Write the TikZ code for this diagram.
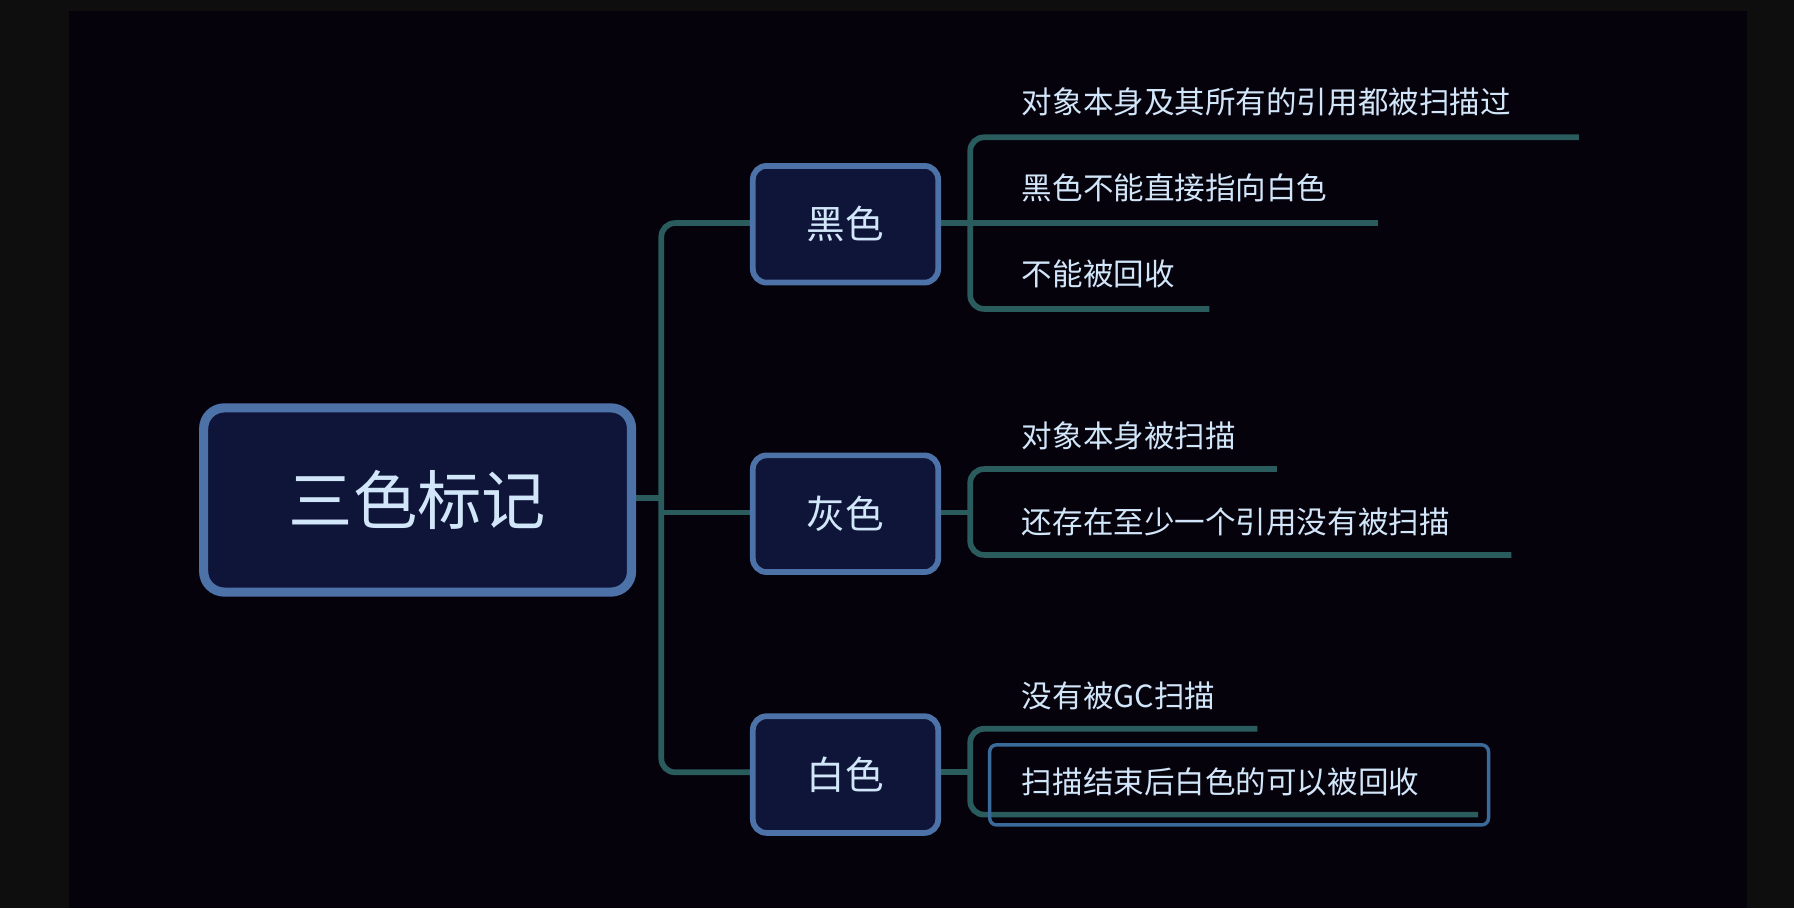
\documentclass[tikz,border=0pt]{standalone}
\usepackage{fontspec}
\setmainfont{Noto Sans CJK SC}
\definecolor{outerbg}{HTML}{0E0E0E}
\definecolor{innerbg}{HTML}{06020C}
\definecolor{boxfill}{HTML}{0E1538}
\definecolor{boxline}{HTML}{4C72A8}
\definecolor{txt}{HTML}{D2E6FA}
\definecolor{teal}{HTML}{2A5C5E}
\definecolor{sel}{HTML}{3A6A9A}
\begin{document}
\begin{tikzpicture}[x={(0.05cm,0)},y={(0,-0.05cm)},
  rootbox/.style={draw=boxline,line width=0.4cm,fill=boxfill,rounded corners=0.9cm,minimum width=18.7cm,minimum height=8.05cm,text=txt,font=\fontsize{80}{90}\selectfont},
  branchbox/.style={draw=boxline,line width=0.25cm,fill=boxfill,rounded corners=0.6cm,minimum width=8.1cm,minimum height=5.1cm,text=txt,font=\fontsize{48}{56}\selectfont},
  leaf/.style={anchor=west,text=txt,inner sep=0,font=\fontsize{38}{44}\selectfont},
  conn/.style={draw=teal,line width=0.25cm,rounded corners=0.6cm}]
\fill[outerbg] (0,0) rectangle (1568,794);
\fill[innerbg] (60,10) rectangle (1527,794);
% connectors
\coordinate (j) at (578,435);
\draw[conn] (552,435) -- (j);
\draw[conn] (657,195) -- (578,195) -- (578,675) -- (657,675);
\draw[conn] (578,448) -- (657,448);
% black
\draw[conn] (820,195) -- (848,195);
\draw[conn] (1380,120) -- (848,120) -- (848,270) -- (1057,270);
\draw[conn] (848,195) -- (1204,195);
% gray
\draw[conn] (820,448) -- (848,448);
\draw[conn] (1116,410) -- (848,410) -- (848,485) -- (1321,485);
% white
\draw[conn] (820,675) -- (848,675);
\draw[conn] (1099,637) -- (848,637) -- (848,712) -- (1292,712);
\node[rootbox] (root) at (365,437) {三色标记};
\node[branchbox] (b1) at (739,196) {黑色};
\node[branchbox] (b2) at (739,449) {灰色};
\node[branchbox] (b3) at (739,677) {白色};
\node[leaf] (l1) at (893,89) {对象本身及其所有的引用都被扫描过};
\node[leaf] (l2) at (893,164) {黑色不能直接指向白色};
\node[leaf] (l3) at (893,239) {不能被回收};
\node[leaf] (l4) at (893,381) {对象本身被扫描};
\node[leaf] (l5) at (893,456) {还存在至少一个引用没有被扫描};
\node[leaf] (l6) at (893,608) {没有被GC扫描};
\node[leaf] (l7) at (893,683) {扫描结束后白色的可以被回收};
\draw[sel,line width=0.15cm,rounded corners=0.3cm] (865,651) rectangle (1301,721);
\end{tikzpicture}
\end{document}
